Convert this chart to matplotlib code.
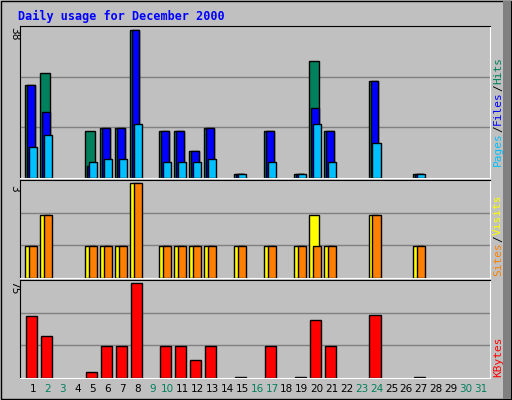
import matplotlib
matplotlib.use("Agg")
import matplotlib.pyplot as plt
from matplotlib.patches import Rectangle

days = list(range(1, 32))
weekend = [2, 3, 9, 10, 16, 17, 23, 24, 30, 31]
hits  = {1:24,2:27,5:12,6:13,7:13,8:38,10:12,11:12,12:7,13:13,15:1,17:12,19:1,20:30,21:12,24:25,27:1}
files = {1:24,2:17,5:3,6:13,7:13,8:38,10:12,11:12,12:7,13:13,15:1,17:12,19:1,20:18,21:12,24:25,27:1}
pages = {1:8,2:11,5:4,6:5,7:5,8:14,10:4,11:4,12:4,13:5,15:1,17:4,19:1,20:14,21:4,24:9,27:1}
visits = {1:1,2:2,5:1,6:1,7:1,8:3,10:1,11:1,12:1,13:1,15:1,17:1,19:1,20:2,21:1,24:2,27:1}
sites  = {1:1,2:2,5:1,6:1,7:1,8:3,10:1,11:1,12:1,13:1,15:1,17:1,19:1,20:1,21:1,24:2,27:1}
kbytes = {1:49,2:33,5:5,6:25,7:25,8:75,10:25,11:25,12:14,13:25,15:1,17:25,19:1,20:46,21:25,24:50,27:1}

W, H = 512, 400
fig = plt.figure(figsize=(5.12, 4.0), dpi=100)
fig.patch.set_facecolor('#c0c0c0')
mono = 'DejaVu Sans Mono'

def ax_at(l, t, r, b):
    return fig.add_axes([l / W, 1 - b / H, (r - l) / W, (b - t) / H])

fig.add_artist(Rectangle((1/W, 1/H), 1-2/W, 1-2/H, transform=fig.transFigure,
                         fill=False, edgecolor='black', lw=1))
fig.add_artist(Rectangle((503/W, 1/H), 8/W, 1-2/H, transform=fig.transFigure,
                         facecolor='#808080', edgecolor='none'))
fig.text(18/W, 1 - 16/H, 'Daily usage for December 2000', color='#0000ff',
         family=mono, fontweight='bold', fontsize=8.5, va='center')

xl = (0.13, 31.6)
panels = [(26, 178, 38), (180, 278, 3), (280, 378, 75)]
axes = []
for t, b, mx in panels:
    ax = ax_at(20, t, 490, b)
    ax.set_facecolor('#c0c0c0')
    ax.set_xlim(*xl)
    ax.set_ylim(0, mx * 1.03)
    for f in (1/3, 2/3):
        ax.axhline(mx * 1.03 * f, color='#808080', lw=1, zorder=0)
    ax.set_xticks([]); ax.set_yticks([])
    for s in ('left', 'top'):
        ax.spines[s].set_color('black')
    for s in ('right', 'bottom'):
        ax.spines[s].set_color('white')
    axes.append(ax)
    fig.text(14/W, 1 - (t + 8)/H, str(mx), rotation=270, family=mono,
             fontsize=8, ha='center', va='center')

ec = dict(edgecolor='black', linewidth=1)
a0, a1, a2 = axes
for d in hits:
    a0.bar(d - 0.53, hits[d], width=0.66, align='edge', color='#00805c', **ec)
    a0.bar(d - 0.40, files[d], width=0.53, align='edge', color='#0000ff', **ec)
    a0.bar(d - 0.27, pages[d], width=0.54, align='edge', color='#00c0ff', **ec)
    a1.bar(d - 0.53, visits[d], width=0.66, align='edge', color='#ffff00', **ec)
    a1.bar(d - 0.27, sites[d], width=0.54, align='edge', color='#ff8000', **ec)
    a2.bar(d - 0.47, kbytes[d], width=0.74, align='edge', color='#ff0000', **ec)

for d in days:
    x = 20 + (d - xl[0]) / (xl[1] - xl[0]) * 470
    fig.text(x / W, 1 - 389/H, str(d), ha='center', va='center', fontsize=7.5,
             color='#00805c' if d in weekend else 'black', family='DejaVu Sans')

def side(parts, ybottom):
    # parts listed bottom-to-top, text reads upward
    step = 6.8
    y = ybottom
    for p, c in parts:
        h = len(p) * step
        fig.text(498/W, 1 - (y - h/2)/H, p, rotation=90, color=c, family=mono,
                 fontsize=8, ha='center', va='center')
        y -= h

side([('Pages', '#00c0ff'), ('/', 'black'), ('Files', '#0000ff'), ('/', 'black'), ('Hits', '#00805c')], 166)
side([('Sites', '#ff8000'), ('/', 'black'), ('Visits', '#ffff00')], 276)
side([('KBytes', '#ff0000')], 377)

fig.savefig('out.png', dpi=100, facecolor=fig.get_facecolor())
